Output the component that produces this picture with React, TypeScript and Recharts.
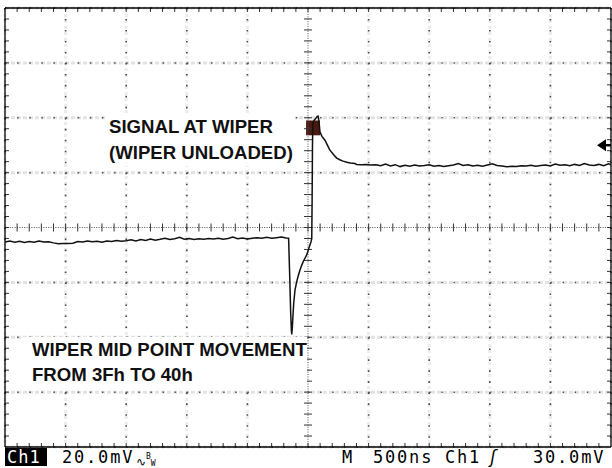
import React from 'react';
import { LineChart, Line, XAxis, YAxis, CartesianGrid, ReferenceLine, ReferenceArea, ReferenceDot } from 'recharts';

// time in ns (0 = trigger point, 500 ns/div), amplitude in mV (20 mV/div)
const baseTimes = [
  -2500, -2460, -2420, -2380, -2340, -2300, -2260, -2220, -2180, -2140,
  -2100, -2060, -2020, -1980, -1940, -1900, -1860, -1820, -1780, -1740,
  -1700, -1660, -1620, -1580, -1540, -1500, -1460, -1420, -1380, -1340,
  -1300, -1260, -1220, -1180, -1140, -1100, -1060, -1020, -980, -940,
  -900, -860, -820, -780, -740, -700, -660, -620, -580, -540,
  -500, -460, -420, -380, -340, -300, -260, -220, -180, -160,
];
const baseMv = [
  -5.3, -4.9, -5.4, -5.0, -5.5, -5.1, -5.4, -4.9, -5.3, -5.2,
  -5.6, -5.9, -5.8, -5.8, -5.7, -5.1, -5.3, -4.9, -5.2, -5.0,
  -5.4, -4.9, -5.1, -4.7, -5.0, -4.8, -4.5, -4.9, -4.4, -4.7,
  -4.2, -4.6, -4.3, -3.9, -4.4, -4.1, -3.6, -4.3, -4.0, -4.4,
  -4.1, -4.3, -4.0, -4.2, -3.9, -4.3, -4.0, -3.5, -4.1, -3.8,
  -4.2, -3.9, -3.7, -3.9, -3.6, -3.9, -3.7, -3.5, -3.8, -3.9,
];

const edgeTimes = [
  -150, -143, -137, -134, -130, -126, -118, -107, -93, -80,
  -66, -52, -39, -25, -11, 0, 11, 25, 31, 34,
  37, 40, 50, 62, 75, 83, 90, 99, 115, 140,
  160, 181, 210, 237, 262, 289, 320, 350, 388,
];
const edgeMv = [
  -19, -31, -37.5, -39, -37, -33.6, -27.6, -22.7, -19.7, -17.5,
  -15.5, -13.8, -12.4, -11.2, -10.0, -8.6, -7.0, -5.2, -4, 10,
  30, 37.9, 39.0, 39.6, 40.4, 40.6, 38.8, 34.8, 33.2, 31.8,
  30, 28.2, 26.6, 25.3, 24.7, 24.2, 23.8, 23.5, 23.3,
];

const tailTimes = [
  400, 440, 480, 520, 560, 600, 640, 680, 720, 760,
  800, 840, 880, 920, 960, 1000, 1040, 1080, 1120, 1160,
  1200, 1240, 1280, 1320, 1360, 1400, 1440, 1480, 1520, 1560,
  1600, 1640, 1680, 1720, 1760, 1800, 1840, 1880, 1920, 1960,
  2000, 2040, 2080, 2120, 2160, 2200, 2240, 2280, 2320, 2360,
  2400, 2440, 2480, 2500,
];
const tailMv = [
  23.0, 22.9, 23.0, 22.8, 22.9, 22.5, 23.1, 22.4, 22.9, 22.2,
  22.7, 22.3, 22.8, 22.4, 22.6, 22.9, 22.3, 22.6, 22.2, 22.5,
  22.8, 23.3, 22.6, 22.9, 22.4, 22.7, 22.3, 22.8, 23.2, 22.6,
  22.4, 22.1, 22.3, 22.2, 22.5, 22.4, 22.7, 22.3, 22.6, 22.8,
  22.4, 23.1, 22.7, 22.9, 22.5, 23.0, 22.6, 23.3, 22.8, 22.6,
  23.0, 22.5, 23.2, 22.9,
];

const triggerLevel = 30; // mV, the arrow on the right edge

const trace = [
  ...baseTimes.map((t, i) => ({ t, mv: baseMv[i] })),
  ...edgeTimes.map((t, i) => ({ t, mv: edgeMv[i] })),
  ...tailTimes.map((t, i) => ({ t, mv: tailMv[i] })),
];

// graticule: 10 x 8 divisions, 5 minor ticks per division
const T_MIN = -2500, T_MAX = 2500, V_MIN = -80, V_MAX = 80;
const timeDivs = [-2000, -1500, -1000, -500, 500, 1000, 1500, 2000];
const voltDivs = [-60, -40, -20, 20, 40, 60];
const timeMinor = Array.from({ length: 49 }, (_, i) => -2400 + i * 100);
const voltMinor = Array.from({ length: 39 }, (_, i) => -76 + i * 4);
const TX = 33; // ~4px in ns
const TY = 1.46; // ~4px in mV

const mono: React.CSSProperties = {
  position: 'absolute',
  top: 448,
  fontFamily: '"DejaVu Sans Mono", monospace',
  fontSize: 17,
  lineHeight: '18px',
  letterSpacing: 1.8,
  color: '#000',
  whiteSpace: 'pre',
};

const note: React.CSSProperties = {
  position: 'absolute',
  background: '#fff',
  fontFamily: '"Liberation Sans", Arial, sans-serif',
  fontWeight: 'bold',
  fontSize: 18.6,
  color: '#111',
  whiteSpace: 'pre',
};

const Arrow = (p: any) => (
  <g>
    <polygon points={`${p.cx - 14},${p.cy} ${p.cx - 5},${p.cy - 6} ${p.cx - 5},${p.cy + 6}`} fill="#000" />
    <line x1={p.cx - 6} y1={p.cy} x2={p.cx} y2={p.cy} stroke="#000" strokeWidth={2.5} />
  </g>
);

export default function App() {
  return (
    <div style={{ position: 'absolute', left: 0, top: 0, width: 612, height: 468, background: '#fff' }}>
      <LineChart width={612} height={468} data={trace} margin={{ top: 8, right: 1, bottom: 21, left: 5 }}>
        <XAxis dataKey="t" type="number" domain={[T_MIN, T_MAX]} ticks={timeDivs} hide allowDataOverflow />
        <YAxis type="number" domain={[V_MIN, V_MAX]} ticks={voltDivs} hide allowDataOverflow />

        <CartesianGrid horizontal={false} stroke="#ececec" strokeWidth={3} strokeDasharray="3 3" />
        <CartesianGrid vertical={false} stroke="#e3e3e3" strokeWidth={3} strokeDasharray="4 2" />
        <CartesianGrid horizontal={false} stroke="#444" strokeWidth={1.6} strokeDasharray="1.6 9.38" />
        <CartesianGrid vertical={false} stroke="#555" strokeWidth={1.5} strokeDasharray="1.5 10.62" />

        <ReferenceLine y={0} stroke="#555" strokeWidth={1} strokeDasharray="1 1.4" />
        <ReferenceLine x={0} stroke="#555" strokeWidth={1} strokeDasharray="1 1.4" />
        {timeMinor.map((t) => (
          <ReferenceLine key={'cx' + t} segment={[{ x: t, y: -TY }, { x: t, y: TY }]} stroke="#333" />
        ))}
        {voltMinor.map((v) => (
          <ReferenceLine key={'cy' + v} segment={[{ x: -TX, y: v }, { x: TX, y: v }]} stroke="#333" />
        ))}

        {timeMinor.map((t) => (
          <ReferenceLine key={'tt' + t} segment={[{ x: t, y: V_MAX }, { x: t, y: V_MAX - TY }]} stroke="#333" />
        ))}
        {timeMinor.map((t) => (
          <ReferenceLine key={'bt' + t} segment={[{ x: t, y: V_MIN }, { x: t, y: V_MIN + TY }]} stroke="#333" />
        ))}
        {voltMinor.map((v) => (
          <ReferenceLine key={'lt' + v} segment={[{ x: T_MIN, y: v }, { x: T_MIN + TX, y: v }]} stroke="#333" />
        ))}
        {voltMinor.map((v) => (
          <ReferenceLine key={'rt' + v} segment={[{ x: T_MAX, y: v }, { x: T_MAX - TX, y: v }]} stroke="#333" />
        ))}

        <ReferenceLine x={T_MIN} stroke="#000" strokeWidth={1.3} />
        <ReferenceLine x={T_MAX} stroke="#000" strokeWidth={1.3} />
        <ReferenceLine y={V_MIN} stroke="#000" strokeWidth={1.3} />
        <ReferenceLine y={V_MAX} stroke="#000" strokeWidth={1.3} />

        <ReferenceArea x1={-16} x2={99} y1={33.6} y2={39} fill="#4a1a12" fillOpacity={1} stroke="none" />
        <ReferenceDot x={T_MAX} y={triggerLevel} r={0} shape={Arrow} ifOverflow="visible" />

        <Line
          type="linear"
          dataKey="mv"
          stroke="#111"
          strokeWidth={1.5}
          dot={false}
          isAnimationActive={false}
          zIndex={1000}
        />
      </LineChart>

      <div style={{ ...note, left: 107, top: 114, lineHeight: '26px', padding: '0 2px' }}>
        {'SIGNAL AT WIPER\n(WIPER UNLOADED)'}
      </div>
      <div style={{ ...note, left: 22, top: 337, width: 285, height: 53, lineHeight: '25px', paddingLeft: 10, boxSizing: 'border-box' }}>
        {'WIPER MID POINT MOVEMENT\nFROM 3Fh TO 40h'}
      </div>

      <div style={{ ...mono, left: 5, width: 42, height: 18, background: '#000', color: '#fff', letterSpacing: 1, paddingLeft: 2, boxSizing: 'border-box' }}>Ch1</div>
      <div style={{ ...mono, left: 62 }}>20.0mV</div>
      <div style={{ ...mono, left: 136, letterSpacing: 0 }}>
        <span style={{ fontSize: 12 }}>∿</span>
        <span style={{ fontSize: 8, verticalAlign: 'super' }}>B</span>
        <span style={{ fontSize: 8 }}>W</span>
      </div>
      <div style={{ ...mono, left: 342 }}>M</div>
      <div style={{ ...mono, left: 373 }}>500ns</div>
      <div style={{ ...mono, left: 445 }}>Ch1</div>
      <div style={{ ...mono, left: 488, fontStyle: 'italic' }}>ʃ</div>
      <div style={{ ...mono, left: 533 }}>30.0mV</div>
    </div>
  );
}
